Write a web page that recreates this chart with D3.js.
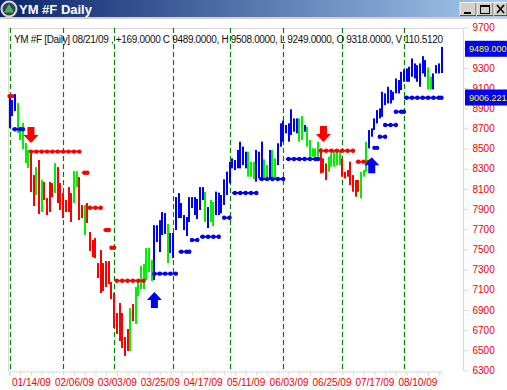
<!DOCTYPE html>
<html>
<head>
<meta charset="utf-8">
<script src="https://cdn.jsdelivr.net/npm/d3@7"></script>
<style>
  html,body{margin:0;padding:0;background:#fff;overflow:hidden}
  svg{display:block}
  text{font-family:"Liberation Sans",Arial,sans-serif}
</style>
</head>
<body>
<svg id="chart" width="507" height="390"></svg>
<script>
// daily bars, one entry per session
const barHigh = [9030,8981,9040,8950,8713,8753,8555,8485,8455,8237,8316,8386,8188,8168,8009,8168,8158,8356,8316,8158,
  8059,7990,8118,8059,8277,8277,8217,7940,7940,7960,7673,7593,7613,7365,7494,7365,7385,7385,7177,7068,
  6870,6969,6870,6632,6711,6919,6959,7127,7197,7336,7355,7514,7514,7395,7740,7740,7790,7871,7861,7751,
  7663,7663,8019,8059,7960,7841,7821,8019,8019,8019,8000,8118,8118,8069,7920,7990,7970,8073,8063,8040,
  8195,8271,8370,8403,8386,8486,8568,8519,8469,8469,8370,8370,8486,8469,8568,8393,8337,8486,8486,8403,
  8552,8750,8776,8733,8750,8889,8799,8799,8799,8822,8733,8717,8585,8502,8502,8568,8502,8403,8353,8419,
  8452,8469,8469,8485,8403,8270,8287,8370,8237,8188,8188,8270,8287,8568,8683,8700,8799,8881,8898,9063,
  9047,9113,9080,9063,9195,9179,9261,9284,9294,9311,9393,9344,9327,9344,9416,9377,9304,9212,9245,9327,
  9344,9508];
const barLow = [8703,8822,8872,8654,8584,8495,8356,8307,8069,7930,8039,7851,7871,7990,7841,7871,8019,8059,7960,7891,
  7811,7871,7871,7772,7960,8118,7791,7811,7643,7762,7484,7424,7414,7217,7068,7088,7127,7157,7008,6721,
  6662,6592,6523,6444,6493,6493,6790,6761,7038,7108,7108,7197,7276,7187,7197,7574,7474,7643,7653,7365,
  7464,7415,7692,7811,7811,7692,7633,7772,7910,7841,7801,7891,7990,7772,7712,7772,7732,7841,7841,7858,
  7941,8040,8155,8304,8287,8304,8304,8337,8304,8221,8221,8195,8172,8205,8205,8205,8205,8205,8205,8205,
  8337,8519,8568,8651,8568,8634,8667,8651,8568,8585,8667,8519,8419,8419,8419,8419,8254,8261,8188,8270,
  8320,8320,8336,8336,8221,8204,8221,8138,8072,8023,8072,8006,8221,8270,8502,8617,8683,8749,8799,8815,
  8931,8947,8947,8980,9047,9047,9080,9162,9162,9162,9212,9195,9162,9113,9245,9212,9086,9086,9086,9245,
  9245,9249];
// b = up trend, g = pullback, r = down trend, [kind, how many bars]
const trendRuns = [["b",3],["g",5],["r",2],["g",1],["r",1],["g",1],["r",4],["g",1],["r",6],["g",2],["r",2],["g",1],["r",16],["g",1],["r",1],["g",7],
  ["b",5],["g",1],["b",13],["g",1],["b",1],["g",2],["b",12],["g",3],["b",3],["g",2],["b",1],["g",2],["b",8],["g",2],["b",1],["g",5],["r",3],["g",5],["r",7],["g",3],["b",22],["g",2],["b",4]];

// stop dots
const stopFrom  = [0,1,8,27,30,35,38,40,54,63,68,71,80,83,93,103,116,129,136,138,140,144,147];
const stopTo    = [1,5,26,29,34,37,39,50,62,67,70,78,82,92,102,115,128,134,137,140,144,147,161];
const stopPrice = [9020,8692,8470,8260,7913,7692,7517,7190,7260,7477,7593,7626,7814,8060,8198,8396,8478,8369,8507,8617,8733,8865,9003];
const stopSide  = ["r","b","r","r","r","r","r","r","b","b","b","b","b","b","b","b","r","r","b","b","b","b","b"];

// signal arrows, price is where the tip is
const arrowIdx   = [8,117,54,135];
const arrowPrice = [8555,8565,7078,8415];
const arrowSide  = ["r","r","b","b"];

const monthIdx = [0,20,39,61,82,102,124,147];
const dateLabels = ["01/14/09","02/06/09","03/03/09","03/25/09","04/17/09","05/11/09","06/03/09","06/25/09","07/17/09","08/10/09"];
const dateLabelIdx = [8,24,40,56,72,88,104,120,136,152];
const priceTicks = d3.range(6300,9701,200);
const hiddenPriceLabels = [9500]; // sits under the last price box
const lastPrices = ["9489.000","9006.221"];
const lastValues = [9489,9006.221];

const titleText = "YM #F Daily";
const infoText = "YM #F  [Daily] 08/21/09 , +169.0000 C 9489.0000, H 9508.0000, L 9249.0000, O 9318.0000, V 110.5120";

const trend = trendRuns.flatMap(d=>d3.range(d[1]).map(()=>d[0]));
const bars = barHigh.map((h,i)=>({i:i,h:h,l:barLow[i],t:trend[i]}));
const segments = stopFrom.map((f,k)=>({from:f,to:stopTo[k],p:stopPrice[k],s:stopSide[k]}));
const stops = segments.flatMap(g=>d3.range(g.from,g.to+1).filter(i=>i%2==0||i==g.to).map(i=>({i:i,p:g.p,s:g.s})));

const x = d3.scaleLinear().domain([0,161]).range([9.5,441.5]);
const y = d3.scaleLinear().domain([6300,9700]).range([370.5,27.5]);
const color = d3.scaleOrdinal().domain(["b","g","r"]).range(["#0000f4","#00f000","#fb0000"]);

const svg = d3.select("#chart");

// ---- window title bar
const defs = svg.append("defs");
const grad = defs.append("linearGradient").attr("id","titleGrad");
grad.append("stop").attr("offset","0%").attr("stop-color","#0a246a");
grad.append("stop").attr("offset","100%").attr("stop-color","#a6caf0");
svg.append("rect").attr("width",507).attr("height",18).attr("fill","url(#titleGrad)");
svg.append("rect").attr("y",17).attr("width",507).attr("height",2).attr("fill","#d4d0c8");
svg.append("circle").attr("cx",9).attr("cy",9).attr("r",7.5).attr("fill","#33405f").attr("stroke","#d8d8d0").attr("stroke-width",2);
svg.append("path").attr("d","M9 4L14 12.5L4 12.5Z").attr("fill","#49b84a");
svg.append("text").attr("x",19).attr("y",14).attr("fill","#fff").attr("font-weight","bold").attr("font-size",13).text(titleText);

const buttons = [[460,16],[477,16],[494,13]];
buttons.forEach(b=>{
  svg.append("rect").attr("x",b[0]).attr("y",2.5).attr("width",b[1]).attr("height",13).attr("fill","#d4d0c8").attr("stroke","#f4f2ec");
  svg.append("path").attr("d",`M${b[0]+b[1]} 3V15.5H${b[0]}`).attr("fill","none").attr("stroke","#55534e");
});
svg.append("rect").attr("x",464).attr("y",12).attr("width",7).attr("height",2).attr("fill","#000");
svg.append("rect").attr("x",480.5).attr("y",5.5).attr("width",9).attr("height",8).attr("fill","none").attr("stroke","#000");
svg.append("rect").attr("x",480).attr("y",5).attr("width",10).attr("height",2).attr("fill","#000");
svg.append("path").attr("d","M497 5L504 13M504 5L497 13").attr("stroke","#000").attr("stroke-width",1.6);

// ---- plot frame + axes
const frame = "#d9d9d9";
svg.append("path").attr("d","M8.5 371V28.5H463.5V371").attr("fill","none").attr("stroke",frame);

const yaxis = svg.append("g").attr("class","y-axis")
  .attr("transform","translate(463.5,0)")
  .call(d3.axisRight(y).tickValues(priceTicks).tickSize(5).tickPadding(4)
    .tickFormat(d=>hiddenPriceLabels.includes(d)?"":d3.format("d")(d)));
yaxis.select(".domain").remove();
yaxis.selectAll("line").attr("stroke",frame);
yaxis.selectAll("text").attr("fill","#f00000").attr("font-size",10).attr("font-family",null);

const xaxis = svg.append("g").attr("class","x-axis")
  .attr("transform","translate(0,371.5)")
  .call(d3.axisBottom(x).tickValues(d3.range(0,162,4)).tickSize(4).tickPadding(3)
    .tickFormat(d=>{const k=dateLabelIdx.indexOf(d); return k<0?"":dateLabels[k]}));
xaxis.select(".domain").attr("stroke",frame);
xaxis.selectAll("line").attr("stroke",frame);
xaxis.selectAll("text").attr("fill","#f00000").attr("font-size",10).attr("font-family",null);

// ---- month separators
svg.append("g").selectAll("line").data(monthIdx).join("line")
  .attr("x1",d=>Math.round(x(d))+0.5).attr("x2",d=>Math.round(x(d))+0.5)
  .attr("y1",28).attr("y2",371)
  .attr("stroke","#008000").attr("stroke-width",1.2).attr("stroke-dasharray","5,3");

svg.append("text").attr("x",14).attr("y",42.5).attr("font-size",10).attr("fill","#111")
  .attr("textLength",429).attr("lengthAdjust","spacing").text(infoText);

// ---- bars
svg.append("g").attr("class","bars").selectAll("rect").data(bars).join("rect")
  .attr("x",d=>Math.round(x(d.i))-1)
  .attr("width",2)
  .attr("y",d=>y(d.h))
  .attr("height",d=>y(d.l)-y(d.h))
  .attr("fill",d=>color(d.t));

// ---- stop dots, a thin line with beads on it
svg.append("g").attr("class","stop-lines").selectAll("line").data(segments).join("line")
  .attr("x1",d=>x(d.from)).attr("x2",d=>x(d.to))
  .attr("y1",d=>y(d.p)).attr("y2",d=>y(d.p))
  .attr("stroke-width",2)
  .attr("stroke",d=>color(d.s));
svg.append("g").attr("class","stops").selectAll("circle").data(stops).join("circle")
  .attr("cx",d=>x(d.i)).attr("cy",d=>y(d.p)).attr("r",2.2)
  .attr("fill",d=>color(d.s));

// ---- arrows
const arrowDown = "M-3.5 -16H3.5V-8H7.5L0 0L-7.5 -8H-3.5Z";
const arrowUp = "M-3.5 16H3.5V8H7.5L0 0L-7.5 8H-3.5Z";
svg.append("g").attr("class","arrows").selectAll("path").data(arrowIdx).join("path")
  .attr("transform",(d,k)=>`translate(${x(d)},${y(arrowPrice[k])})`)
  .attr("d",(d,k)=>arrowSide[k]=="r"?arrowDown:arrowUp)
  .attr("fill",(d,k)=>color(arrowSide[k]));

// ---- last value boxes
const boxes = svg.append("g").selectAll("g").data(lastValues).join("g")
  .attr("transform",d=>`translate(465,${y(d)})`);
boxes.append("rect").attr("y",-8).attr("width",42).attr("height",16).attr("fill","#0000f4");
boxes.append("text").attr("x",4).attr("y",3.5).attr("font-size",9).attr("fill","#ffff00").text((d,k)=>lastPrices[k]);
</script>
</body>
</html>
